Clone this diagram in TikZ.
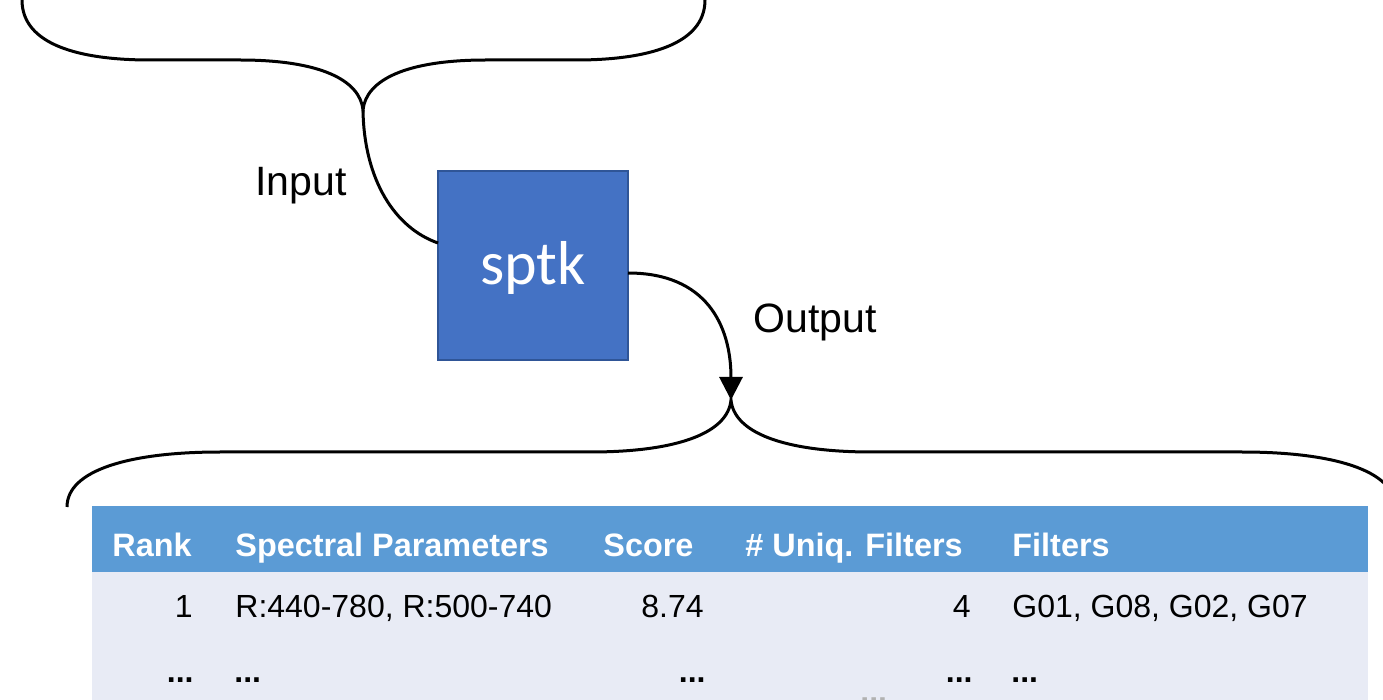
\documentclass[tikz,border=0pt]{standalone}
\usepackage{fontspec}
\setmainfont{Liberation Sans}
\newfontfamily\boxfont{Carlito}
\usetikzlibrary{arrows.meta}
\definecolor{boxblue}{HTML}{4472C4}
\definecolor{boxedge}{HTML}{2F5597}
\definecolor{headblue}{HTML}{5B9BD5}
\definecolor{rowgray}{HTML}{E8EBF5}
\begin{document}
\begin{tikzpicture}[x=0.5pt,y=-0.5pt,
  brace/.style={line width=1.5pt},
  link/.style={line width=1.5pt},
  lbl/.style={inner sep=0,font=\fontsize{20.5}{24}\selectfont},
  hd/.style={inner sep=0,text=white,font=\fontsize{16.2}{19}\selectfont\bfseries},
  cell/.style={inner sep=0,font=\fontsize{16}{19}\selectfont},
  more/.style={cell,font=\fontsize{16}{19}\selectfont\bfseries},
  tool/.style={draw=boxedge,line width=0.75pt,fill=boxblue,minimum width=95pt,minimum height=94.5pt,inner sep=0}]
\clip (0,0) rectangle (1383,700);

% input brace
\coordinate (topcusp) at (363,110);
\draw[brace] (22,-20) -- (22,0) .. controls (22,45) and (80,60) .. (150,60) -- (240,60)
  .. controls (320,60) and (360,80) .. (topcusp)
  .. controls (366,80) and (406,60) .. (486,60) -- (576,60)
  .. controls (646,60) and (705,45) .. (705,0) -- (705,-20);

% output brace
\coordinate (botcusp) at (731,400);
\draw[brace] (67,507) .. controls (67,470) and (130,452) .. (220,452) -- (590,452)
  .. controls (680,452) and (728,432) .. (botcusp)
  .. controls (734,432) and (782,452) .. (872,452) -- (1242,452)
  .. controls (1332,452) and (1395,470) .. (1395,507);

% table
\fill[headblue] (92,506) rectangle (1368,572);
\fill[rowgray] (92,572) rectangle (1368,720);

% processing box
\node[tool] (sptk) at (533,265.5) {};
\node[inner sep=0,text=white,font=\fontsize{31}{36}\boxfont,anchor=base] (sptklbl) at (533,285) {sptk};
\coordinate (inport) at (438,243);
\coordinate (outport) at (628,273);

% connectors
\draw[link] (topcusp) .. controls (364,180) and (395,228) .. (inport);
\draw[link,-{Triangle[length=11.5pt,width=11.5pt]}] (outport) .. controls (706,273) and (731,325) .. (botcusp);

\node[lbl,anchor=base west] (inlbl) at (255,196) {Input};
\node[lbl,anchor=base west] (outlbl) at (753,333) {Output};

% header row
\node[hd,anchor=base west] (hrank) at (112,556) {Rank};
\node[hd,anchor=base west] (hspec) at (235,556) {Spectral Parameters};
\node[hd,anchor=base west] (hscore) at (603,556) {Score};
\node[hd,anchor=base west] (huniq) at (745,556) {\# Uniq. Filters};
\node[hd,anchor=base west] (hfilt) at (1012,556) {Filters};

% first row
\node[cell,anchor=base east] (arank) at (193,617) {1};
\node[cell,anchor=base west] (aspec) at (235,617) {R:440-780, R:500-740};
\node[cell,anchor=base east] (ascore) at (704,617) {8.74};
\node[cell,anchor=base east] (auniq) at (971,617) {4};
\node[cell,anchor=base west] (afilt) at (1012,617) {G01, G08, G02, G07};

% continuation row
\node[more,anchor=base east] (brank) at (194,682) {...};
\node[more,anchor=base west] (bspec) at (234,682) {...};
\node[more,anchor=base east] (bscore) at (706,682) {...};
\node[more,anchor=base east] (buniq) at (973,682) {...};
\node[more,anchor=base west] (bfilt) at (1011,682) {...};
\node[more,anchor=base west,text=black!30] (bmore) at (860,702) {...};
\end{tikzpicture}
\end{document}
